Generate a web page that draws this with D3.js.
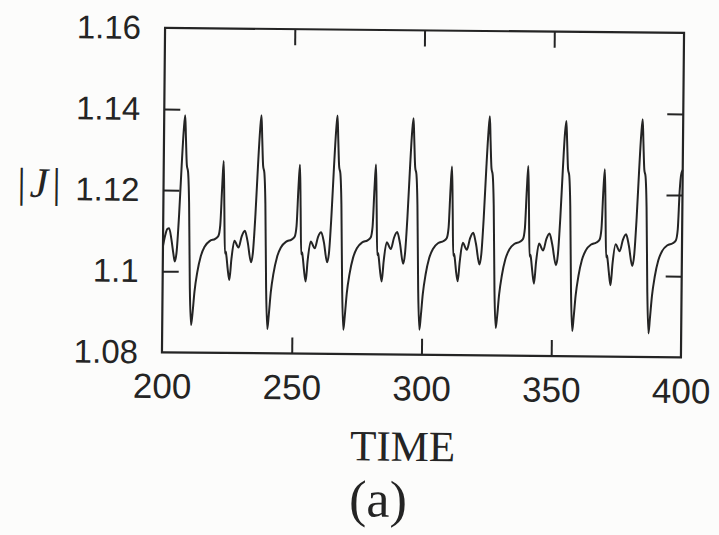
<!DOCTYPE html>
<html>
<head>
<meta charset="utf-8">
<script src="https://cdn.jsdelivr.net/npm/d3@7"></script>
<style>
  html, body { margin: 0; padding: 0; background: #fcfcfb; }
  svg { display: block; }
</style>
</head>
<body>
<div id="chart"></div>
<script>
// |J| time series, TIME 200..400
const time = [
  200.0, 200.8, 201.6, 202.3, 203.2, 204.0,
  204.6, 205.3, 206.1, 206.9, 207.6, 208.1, 208.45, 208.9, 209.4, 209.9, 210.5, 211.1, 211.6, 212.3, 213.3, 214.6, 216.1, 218.1, 220.1, 221.3, 222.0, 222.6, 223.1, 223.5, 223.9, 224.2, 224.5, 225.0, 225.7, 226.4, 227.5, 229.1, 230.3, 231.5, 232.6,
  234.0, 234.7, 235.5, 236.3, 237.0, 237.5, 237.85, 238.3, 238.8, 239.3, 239.9, 240.5, 241.0, 241.7, 242.7, 244.0, 245.5, 247.5, 249.5, 250.7, 251.4, 252.0, 252.5, 252.9, 253.3, 253.6, 253.9, 254.4, 255.1, 255.8, 256.9, 258.5, 259.7, 260.9, 262.0,
  263.3, 264.0, 264.8, 265.6, 266.3, 266.8, 267.15, 267.6, 268.1, 268.6, 269.2, 269.8, 270.3, 271.0, 272.0, 273.3, 274.8, 276.8, 278.8, 280.0, 280.7, 281.3, 281.8, 282.2, 282.6, 282.9, 283.2, 283.7, 284.4, 285.1, 286.2, 287.8, 289.0, 290.2, 291.3,
  292.6, 293.3, 294.1, 294.9, 295.6, 296.1, 296.45, 296.9, 297.4, 297.9, 298.5, 299.1, 299.6, 300.3, 301.3, 302.6, 304.1, 306.1, 308.1, 309.3, 310.0, 310.6, 311.1, 311.5, 311.9, 312.2, 312.5, 313.0, 313.7, 314.4, 315.5, 317.1, 318.3, 319.5, 320.6,
  322.0, 322.7, 323.5, 324.3, 325.0, 325.5, 325.85, 326.3, 326.8, 327.3, 327.9, 328.5, 329.0, 329.7, 330.7, 332.0, 333.5, 335.5, 337.5, 338.7, 339.4, 340.0, 340.5, 340.9, 341.3, 341.6, 341.9, 342.4, 343.1, 343.8, 344.9, 346.5, 347.7, 348.9, 350.0,
  351.5, 352.2, 353.0, 353.8, 354.5, 355.0, 355.35, 355.8, 356.3, 356.8, 357.4, 358.0, 358.5, 359.2, 360.2, 361.5, 363.0, 365.0, 367.0, 368.2, 368.9, 369.5, 370.0, 370.4, 370.8, 371.1, 371.4, 371.9, 372.6, 373.3, 374.4, 376.0, 377.2, 378.4, 379.5,
  380.9, 381.6, 382.4, 383.2, 383.9, 384.4, 384.75, 385.2, 385.7, 386.2, 386.8, 387.4, 387.9, 388.6, 389.6, 390.9, 392.4, 394.4, 396.4, 397.6, 398.3, 398.9, 399.4, 400.0
];
const absJ = [
  1.1062, 1.1088, 1.1104, 1.1106, 1.1080, 1.1045,
  1.1024, 1.1050, 1.1140, 1.1260, 1.1350, 1.1385, 1.1330, 1.1262, 1.1245, 1.1170, 1.0960, 1.0868, 1.0895, 1.0950, 1.0998, 1.1038, 1.1062, 1.1076, 1.1081, 1.1088, 1.1115, 1.1210, 1.1273, 1.1160, 1.1045, 1.1050, 1.1038, 1.1008, 1.0980, 1.1030, 1.1077, 1.1060, 1.1088, 1.1102, 1.1075,
  1.1024, 1.1050, 1.1140, 1.1260, 1.1350, 1.1387, 1.1330, 1.1262, 1.1245, 1.1170, 1.0960, 1.0860, 1.0893, 1.0950, 1.0998, 1.1038, 1.1062, 1.1076, 1.1081, 1.1088, 1.1115, 1.1210, 1.1266, 1.1160, 1.1045, 1.1050, 1.1038, 1.1008, 1.0978, 1.1030, 1.1077, 1.1060, 1.1088, 1.1100, 1.1075,
  1.1026, 1.1050, 1.1140, 1.1260, 1.1350, 1.1388, 1.1330, 1.1262, 1.1245, 1.1170, 1.0960, 1.0860, 1.0893, 1.0950, 1.0998, 1.1038, 1.1062, 1.1076, 1.1081, 1.1088, 1.1115, 1.1210, 1.1268, 1.1160, 1.1045, 1.1050, 1.1038, 1.1008, 1.0980, 1.1030, 1.1077, 1.1060, 1.1088, 1.1102, 1.1075,
  1.1024, 1.1050, 1.1140, 1.1260, 1.1350, 1.1383, 1.1330, 1.1262, 1.1245, 1.1170, 1.0960, 1.0862, 1.0895, 1.0950, 1.0998, 1.1038, 1.1062, 1.1076, 1.1081, 1.1088, 1.1115, 1.1210, 1.1265, 1.1160, 1.1045, 1.1050, 1.1038, 1.1008, 1.0982, 1.1030, 1.1077, 1.1060, 1.1088, 1.1102, 1.1075,
  1.1024, 1.1050, 1.1140, 1.1260, 1.1350, 1.1390, 1.1330, 1.1262, 1.1245, 1.1170, 1.0960, 1.0868, 1.0895, 1.0950, 1.0998, 1.1038, 1.1062, 1.1076, 1.1081, 1.1088, 1.1115, 1.1210, 1.1268, 1.1160, 1.1045, 1.1050, 1.1038, 1.1008, 1.0978, 1.1030, 1.1077, 1.1060, 1.1088, 1.1102, 1.1075,
  1.1024, 1.1050, 1.1140, 1.1260, 1.1350, 1.1380, 1.1330, 1.1262, 1.1245, 1.1170, 1.0960, 1.0862, 1.0895, 1.0950, 1.0998, 1.1038, 1.1062, 1.1076, 1.1081, 1.1088, 1.1115, 1.1210, 1.1262, 1.1160, 1.1045, 1.1050, 1.1038, 1.1008, 1.0976, 1.1030, 1.1077, 1.1060, 1.1088, 1.1102, 1.1075,
  1.1024, 1.1050, 1.1140, 1.1260, 1.1350, 1.1386, 1.1330, 1.1262, 1.1245, 1.1170, 1.0960, 1.0858, 1.0895, 1.0950, 1.0998, 1.1038, 1.1062, 1.1076, 1.1081, 1.1088, 1.1115, 1.1210, 1.1250, 1.1262
];

const xTicks = [200, 250, 300, 350, 400];
const yTicks = [1.08, 1.1, 1.12, 1.14, 1.16];
const yTickLabels = ["1.08", "1.1", "1.12", "1.14", "1.16"];
const xTitle = "TIME";
const panelLabel = "(a)";

const W = 719, H = 535;
const plot = { left: 163.5, right: 682.5, top: 30.4, bottom: 354.8 };
const ink = "#242424";

const svg = d3.select("#chart").append("svg")
  .attr("width", W).attr("height", H);

svg.append("rect").attr("width", W).attr("height", H).attr("fill", "#fcfcfb");

// the whole figure sits at a slight clockwise tilt
const cx = (plot.left + plot.right) / 2, cy = (plot.top + plot.bottom) / 2;
const g = svg.append("g").attr("transform", `rotate(0.55, ${cx}, ${cy})`);

const x = d3.scaleLinear().domain([200, 400]).range([plot.left, plot.right]);
const y = d3.scaleLinear().domain([1.08, 1.16]).range([plot.bottom, plot.top]);

const tickLen = 16;
const sans = "'Liberation Sans', Arial, Helvetica, sans-serif";
const serif = "'Liberation Serif', 'DejaVu Serif', serif";

// Bottom axis with labels; ticks point inward
const xAxis = d3.axisBottom(x).tickValues(xTicks).tickSize(-tickLen).tickSizeOuter(0)
  .tickPadding(21).tickFormat(d3.format("d"));
const gx = g.append("g").attr("transform", `translate(0,${plot.bottom})`).call(xAxis);
gx.select(".domain").remove();
gx.selectAll(".tick line").attr("stroke", ink).attr("stroke-width", 2)
  .filter(d => d === 200 || d === 400).remove();
gx.selectAll(".tick text").attr("fill", ink).attr("font-family", sans).attr("font-size", 35);

// Top mirror ticks
const gxt = g.append("g").attr("transform", `translate(0,${plot.top})`)
  .call(d3.axisTop(x).tickValues([250, 300, 350]).tickSize(-tickLen).tickSizeOuter(0).tickFormat(""));
gxt.select(".domain").remove();
gxt.selectAll(".tick line").attr("stroke", ink).attr("stroke-width", 2);

// Left axis with labels
const yAxis = d3.axisLeft(y).tickValues(yTicks).tickSize(-tickLen).tickSizeOuter(0)
  .tickPadding(24).tickFormat((d, i) => yTickLabels[i]);
const gy = g.append("g").attr("transform", `translate(${plot.left},0)`).call(yAxis);
gy.select(".domain").remove();
gy.selectAll(".tick line").attr("stroke", ink).attr("stroke-width", 2)
  .filter(d => d === 1.08 || d === 1.16).remove();
gy.selectAll(".tick text").attr("fill", ink).attr("font-family", sans).attr("font-size", 33);

// Right mirror ticks
const gyr = g.append("g").attr("transform", `translate(${plot.right},0)`)
  .call(d3.axisRight(y).tickValues([1.1, 1.12, 1.14]).tickSize(-tickLen).tickSizeOuter(0).tickFormat(""));
gyr.select(".domain").remove();
gyr.selectAll(".tick line").attr("stroke", ink).attr("stroke-width", 2);

// Frame
g.append("rect")
  .attr("x", plot.left).attr("y", plot.top)
  .attr("width", plot.right - plot.left).attr("height", plot.bottom - plot.top)
  .attr("fill", "none").attr("stroke", ink).attr("stroke-width", 2.2);

// Series
const series = time.map((t, i) => [t, absJ[i]]);
g.append("path")
  .datum(series)
  .attr("fill", "none")
  .attr("stroke", ink)
  .attr("stroke-width", 2)
  .attr("stroke-linejoin", "round")
  .attr("d", d3.line().x(d => x(d[0])).y(d => y(d[1])).curve(d3.curveMonotoneX));

// Y title |J|
const yt = g.append("text")
  .attr("x", 39).attr("y", y(1.12) + 8)
  .attr("text-anchor", "middle")
  .attr("fill", ink).attr("font-family", serif).attr("font-size", 42);
yt.append("tspan").text("|");
yt.append("tspan").attr("font-style", "italic").attr("dx", 4).text("J");
yt.append("tspan").attr("dx", 4).text("|");

// X title and panel label
g.append("text")
  .attr("x", 405).attr("y", 461)
  .attr("text-anchor", "middle")
  .attr("fill", ink).attr("font-family", serif).attr("font-size", 43)
  .text(xTitle);
g.append("text")
  .attr("x", 381).attr("y", 517)
  .attr("text-anchor", "middle")
  .attr("fill", ink).attr("font-family", serif).attr("font-size", 52)
  .text(panelLabel);
</script>
</body>
</html>
